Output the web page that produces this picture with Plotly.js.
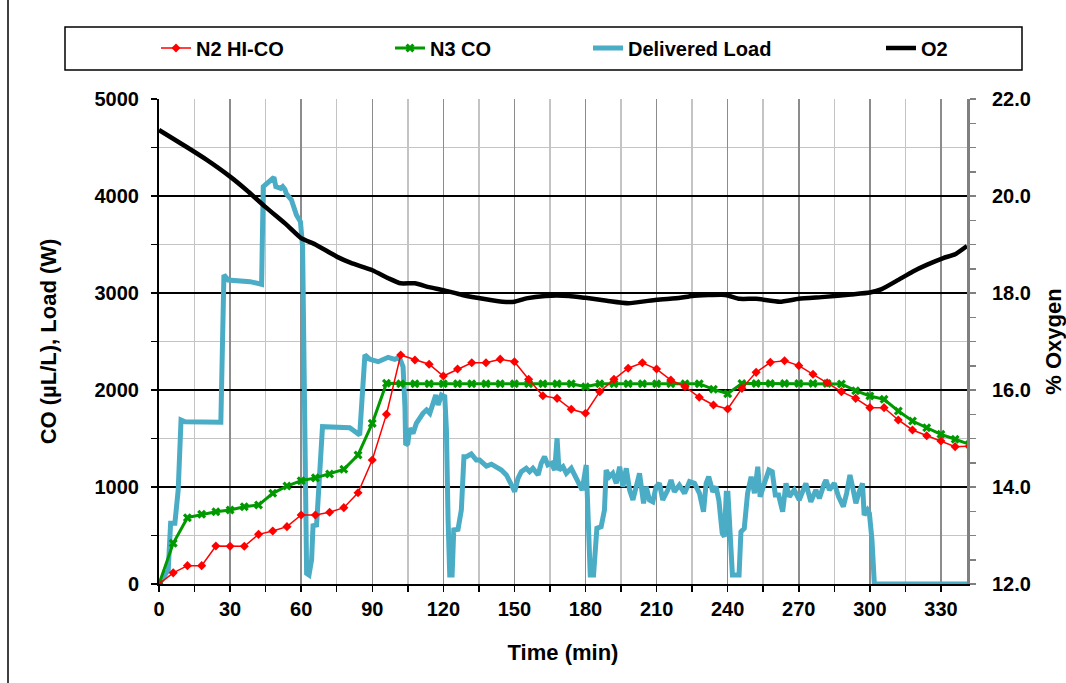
<!DOCTYPE html>
<html>
<head>
<meta charset="utf-8">
<script src="https://cdn.plot.ly/plotly-3.0.1.min.js"></script>
<style>html,body{margin:0;padding:0;background:#fff;}#chart{width:1066px;height:683px;}</style>
</head>
<body>
<div id="chart"></div>
<script>
// ---- data ----
const coTime = [0,6,12,18,24,30,36,42,48,54,60,66,72,78,84,90,96,102,108,114,120,126,132,138,144,150,156,162,168,174,180,186,192,198,204,210,216,222,228,234,240,246,252,258,264,270,276,282,288,294,300,306,312,318,324,330,336,342];
const n2HiCO = [0,115,189,189,392,389,389,512,546,591,711,711,739,787,941,1278,1749,2361,2309,2265,2144,2216,2281,2281,2318,2292,2110,1941,1914,1801,1760,1983,2110,2224,2281,2216,2103,2034,1925,1845,1804,2017,2182,2285,2302,2251,2162,2075,1983,1914,1818,1818,1691,1588,1529,1474,1416,1420];
const n3CO = [0,420,684,718,745,763,797,814,935,1010,1065,1094,1134,1182,1330,1656,2069,2065,2065,2065,2065,2065,2065,2065,2065,2065,2065,2065,2065,2065,2034,2065,2065,2065,2065,2065,2065,2065,2065,2007,1962,2068,2068,2068,2068,2068,2068,2068,2062,1993,1938,1904,1784,1680,1611,1543,1492,1440];

const loadTime = [0,2.5,3.9,4.9,6.7,8.1,9.3,11,15,26.1,27.4,29.2,38.4,43.3,44,45.4,48.5,49.3,51.4,52.2,53.1,53.8,55.9,58,59.7,60.6,61.1,61.5,62.3,63.3,64.4,65,66.5,69,80.5,84.7,86.9,89,92.5,96.7,99.5,101.4,103,103.8,104.1,105,105.8,107.2,108.6,111.4,112.9,114.3,115.7,116.8,117.8,119.2,120.6,121.3,122,122.7,123.7,124.4,126.2,127.6,128.7,129.7,131.8,133.9,135.3,137.4,138.2,140.3,143,144.5,146.6,148,148.8,150.1,151.5,152.9,155,156.4,157.8,160,161.3,162.7,164.1,165.6,167,168,168.8,170.5,171.9,174,175.4,177.5,178.6,180.3,181.4,182,183.4,184.8,186.6,188,188.7,190.1,191.5,193,194.4,195.8,197.2,198.6,200,201.4,202.8,204.5,205.6,207,208.4,209.8,211.2,212.6,214.7,216.1,217.5,219.6,221.8,223.9,226,228.1,229.8,230.9,232,233.7,235.1,236.3,237.7,238.6,239.4,240.1,240.8,242,244.8,245.6,247,248.4,249.9,251.3,252.7,253.7,255.5,257.4,258.8,260.1,261.5,263.2,264.6,266,268.1,270.2,273,275.1,277.2,278.7,280.8,281.5,282.9,285,286.8,288.8,290.2,291.6,292.7,294.1,295.5,296.9,297.6,299,299.8,300.9,301.9,342];
const deliveredLoad = [0,93,144,626,626,969,1691,1673,1670,1667,3186,3134,3117,3090,4096,4131,4193,4096,4079,4096,4069,4021,3959,3804,3735,3477,2343,969,110,93,250,600,608,1622,1612,1536,2361,2316,2292,2337,2316,2337,2240,1828,1433,1450,1605,1553,1656,1760,1794,1760,1863,1948,1845,1948,1931,1588,660,93,93,557,564,763,1312,1312,1340,1278,1278,1227,1215,1235,1193,1175,1124,1038,1020,951,1089,1158,1193,1158,1193,1124,1244,1312,1227,1244,1175,1502,1175,1209,1141,1193,1124,1038,969,1227,626,93,93,574,591,763,1175,1106,1141,1038,1209,1003,1193,969,866,1003,1141,832,1003,866,848,1003,1038,866,969,1072,951,1020,935,1055,1038,935,745,1038,1106,951,1003,860,523,488,935,935,591,93,93,539,574,935,1106,935,1209,900,1038,1175,1158,917,917,745,1038,900,969,866,1038,848,969,883,1038,1072,969,1038,900,797,935,1124,1003,832,951,1038,711,763,729,454,0,0];

const o2Time = [0,12,20,30,37,45,54,60,66,75,81,90,97,102,108,114,120,128,138,145,150,155,163,173,180,189,198,210,220,225,239,245,252,262,270,281,292,300,305,312,318,324,331,336,341];
const oxygen = [21.36,21.0,20.75,20.4,20.12,19.77,19.4,19.13,19.0,18.75,18.62,18.47,18.3,18.2,18.2,18.12,18.06,17.96,17.87,17.82,17.82,17.89,17.94,17.94,17.9,17.84,17.79,17.86,17.9,17.94,17.96,17.88,17.88,17.82,17.88,17.92,17.97,18.01,18.08,18.27,18.44,18.58,18.72,18.8,18.97];

const xTicks = [0,30,60,90,120,150,180,210,240,270,300,330];
const xMinorTicks = [15,45,75,105,135,165,195,225,255,285,315];

// ---- chart ----
const FONT = 'Liberation Sans, Arial, sans-serif';
const traces = [
  {x: loadTime, y: deliveredLoad, name: 'Delivered Load', mode: 'lines', line: {color: '#4BACC6', width: 5}, legend: 'legend3', yaxis: 'y'},
  {x: coTime, y: n3CO, name: 'N3 CO', mode: 'lines+markers', line: {color: '#009900', width: 3}, marker: {symbol: 'x', size: 8, color: '#009900'}, legend: 'legend2', yaxis: 'y'},
  {x: coTime, y: n2HiCO, name: 'N2 HI-CO', mode: 'lines+markers', line: {color: '#FF0000', width: 1.5}, marker: {symbol: 'diamond', size: 7, color: '#FF0000'}, legend: 'legend', yaxis: 'y'},
  {x: o2Time, y: oxygen, name: 'O2', mode: 'lines', line: {color: '#000000', width: 4.5, shape: 'spline', smoothing: 0.5}, legend: 'legend4', yaxis: 'y2'}
];

const legFont = {family: FONT, size: 20, color: '#000', weight: 'bold'};
function leg(px) {
  return {x: (px - 159) / 808, y: (584 - 48) / 485, xanchor: 'left', yanchor: 'middle', orientation: 'h', bgcolor: 'rgba(0,0,0,0)', borderwidth: 0, font: legFont};
}

const layout = {
  width: 1066, height: 683,
  margin: {l: 159, r: 99, t: 99, b: 99, pad: 0},
  paper_bgcolor: '#fff', plot_bgcolor: '#fff',
  font: {family: FONT, color: '#000'},
  showlegend: true,
  legend: leg(156), legend2: leg(390), legend3: leg(588), legend4: leg(881),
  xaxis: {
    range: [0, 341], tickmode: 'array', tickvals: xTicks, ticktext: xTicks.map(String),
    showgrid: true, gridcolor: '#8c8c8c', gridwidth: 1.5,
    ticks: 'outside', ticklen: 6, tickcolor: '#000', tickwidth: 1.5,
    minor: {tickmode: 'array', tickvals: xMinorTicks, showgrid: true, gridcolor: '#c4c4c4', gridwidth: 1.5, ticks: 'outside', ticklen: 6, tickcolor: '#000', tickwidth: 1.5},
    showline: true, linecolor: '#000', linewidth: 2,
    zeroline: false,
    tickfont: {family: FONT, size: 20, color: '#000', weight: 'bold'},
    title: {text: 'Time (min)', font: {family: FONT, size: 22, color: '#000', weight: 'bold'}, standoff: 26}
  },
  yaxis: {
    range: [0, 5000], dtick: 1000, tick0: 0,
    showgrid: true, gridcolor: '#000', gridwidth: 1.5,
    ticks: 'outside', ticklen: 6, tickcolor: '#000', tickwidth: 1.5,
    minor: {dtick: 500, showgrid: true, gridcolor: '#c4c4c4', gridwidth: 1.5, ticks: 'outside', ticklen: 6, tickcolor: '#000', tickwidth: 1.5},
    showline: true, linecolor: '#000', linewidth: 2,
    zeroline: false, ticklabelstandoff: 8,
    tickfont: {family: FONT, size: 20, color: '#000', weight: 'bold'},
    title: {text: 'CO (µL/L), Load (W)', font: {family: FONT, size: 22, color: '#000', weight: 'bold'}, standoff: 32}
  },
  yaxis2: {
    overlaying: 'y', side: 'right', range: [12, 22], dtick: 2, tick0: 12, tickformat: '.1f',
    showgrid: false, zeroline: false,
    ticks: 'outside', ticklen: 6, tickcolor: '#808080', tickwidth: 1.5,
    minor: {dtick: 0.5, ticks: 'outside', ticklen: 6, tickcolor: '#808080', tickwidth: 1.5, showgrid: false},
    showline: true, linecolor: '#808080', linewidth: 3,
    ticklabelstandoff: 12,
    tickfont: {family: FONT, size: 20, color: '#000', weight: 'bold'},
    title: {text: '% Oxygen', font: {family: FONT, size: 22, color: '#000', weight: 'bold'}, standoff: 18}
  },
  shapes: [
    {type: 'rect', xref: 'paper', yref: 'paper', x0: (65 - 159) / 808, x1: (1022 - 159) / 808, y0: (584 - 70) / 485, y1: (584 - 27) / 485, line: {color: '#000', width: 1.5}, fillcolor: 'rgba(0,0,0,0)'},
    {type: 'line', xref: 'paper', yref: 'paper', x0: (8 - 159) / 808, x1: (8 - 159) / 808, y0: -99 / 485, y1: 584 / 485, line: {color: '#000', width: 1.5}}
  ]
};

Plotly.newPlot('chart', traces, layout, {displayModeBar: false, staticPlot: true});
</script>
</body>
</html>
